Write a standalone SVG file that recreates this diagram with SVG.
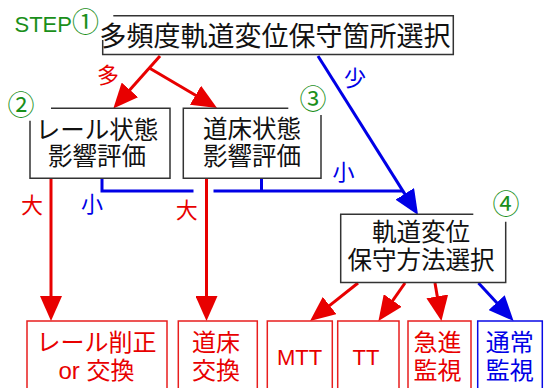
<svg xmlns="http://www.w3.org/2000/svg" width="547" height="388" viewBox="0 0 547 388">
<defs>
<style>
.box{fill:none;stroke:#333;stroke-width:1.5}
.rbox{fill:#fff;stroke:#e81e1e;stroke-width:1.5}
.bbox{fill:#fff;stroke:#0a0ae6;stroke-width:1.5}
.t{font-family:"Liberation Sans","Noto Sans CJK JP",sans-serif;text-anchor:middle}
.k{fill:#111;font-size:24.5px}
.r{fill:#e80000}
.b{fill:#0000e6}
.g{fill:#1a8f1a}
.rl{fill:none;stroke:#e80000;stroke-width:3}
.bl{fill:none;stroke:#0000e6;stroke-width:3}
</style>
<marker id="ar" markerUnits="userSpaceOnUse" markerWidth="25" markerHeight="22" viewBox="0 0 25 22" refX="5" refY="11" orient="auto"><path d="M0,0 L25,11 L0,22 z" fill="#e80000"/></marker>
<marker id="ab" markerUnits="userSpaceOnUse" markerWidth="25" markerHeight="22" viewBox="0 0 25 22" refX="5" refY="11" orient="auto"><path d="M0,0 L25,11 L0,22 z" fill="#0000e6"/></marker>
</defs>
<rect width="547" height="388" fill="#fff"/>

<g id="connectors">
<path class="rl" d="M160,56 L126.6,93.6" marker-end="url(#ar)"/>
<path class="rl" d="M149.3,68 L199.8,97.8" marker-end="url(#ar)"/>
<path class="bl" d="M318,56 L407.4,198.1" marker-end="url(#ab)"/>
<path class="rl" d="M51,178.3 L51,301" marker-end="url(#ar)"/>
<path class="rl" d="M206.5,178.3 L206.5,301" marker-end="url(#ar)"/>
<path class="bl" d="M102,178.3 V191 H193.5 M213.5,191 H403 M261.5,178.3 V191"/>
<path class="rl" d="M358,283 L325.7,308.6" marker-end="url(#ar)"/>
<path class="rl" d="M405,283 L389.9,304.6" marker-end="url(#ar)"/>
<path class="rl" d="M435,283 L438.1,301.3" marker-end="url(#ar)"/>
<path class="bl" d="M478.5,283 L500,306.3" marker-end="url(#ab)"/>
<text class="t r" x="108" y="83.4" font-size="22">多</text>
<text class="t b" x="355" y="86.4" font-size="22">少</text>
<text class="t r" x="32" y="213" font-size="22">大</text>
<text class="t b" x="92" y="212.4" font-size="22">小</text>
<text class="t r" x="186.7" y="218.2" font-size="22">大</text>
<text class="t b" x="343.5" y="180.4" font-size="22">小</text>
</g>

<g id="step1">
<path class="box" d="M113.3,15.7 H453.3 V54.5 H102.7 V40"/>
<text class="t" x="275" y="46" font-size="27" fill="#111">多頻度軌道変位保守箇所選択</text>
<text class="t g" x="14.5" y="32" font-size="22" style="text-anchor:start">STEP<tspan font-size="27">①</tspan></text>
</g>

<g id="step2">
<path class="box" d="M51,108.3 H170 V178.3 H30 V120.7"/>
<text class="t k" x="97" y="138.6">レール状態</text>
<text class="t k" x="97" y="165">影響評価</text>
<text class="t g" x="21" y="115.3" font-size="27">②</text>
</g>

<g id="step3">
<path class="box" d="M288.3,108.3 H183.3 V178.3 H321 V115"/>
<text class="t k" x="252" y="138">道床状態</text>
<text class="t k" x="252" y="165.3">影響評価</text>
<text class="t g" x="313" y="108.8" font-size="27">③</text>
</g>

<g id="step4">
<path class="box" d="M473.3,214.3 H340.7 V282.5 H505.7 V221.7"/>
<text class="t k" x="421" y="241.3">軌道変位</text>
<text class="t k" x="421" y="268.8">保守方法選択</text>
<text class="t g" x="506" y="214.3" font-size="27">④</text>
</g>

<g id="rail-replace">
<rect class="rbox" x="27" y="321" width="140" height="80"/>
<text class="t r" x="96.5" y="351" font-size="24">レール削正</text>
<text class="t r" x="96.5" y="379" font-size="24">or 交換</text>
</g>
<g id="ballast-replace">
<rect class="rbox" x="178.3" y="321" width="79" height="80"/>
<text class="t r" x="216" y="351" font-size="24">道床</text>
<text class="t r" x="216" y="379" font-size="24">交換</text>
</g>
<g id="mtt">
<rect class="rbox" x="267.3" y="321" width="65" height="80"/>
<text class="t r" x="299.5" y="365" font-size="22">MTT</text>
</g>
<g id="tt">
<rect class="rbox" x="337.7" y="321" width="61.3" height="80"/>
<text class="t r" x="366" y="365" font-size="22">TT</text>
</g>
<g id="rapid-watch">
<rect class="rbox" x="408" y="321" width="63" height="80"/>
<text class="t r" x="437.5" y="351" font-size="24">急進</text>
<text class="t r" x="437.5" y="379" font-size="24">監視</text>
</g>
<g id="normal-watch">
<rect class="bbox" x="477.7" y="321" width="64.6" height="80"/>
<text class="t b" x="509.7" y="351" font-size="24">通常</text>
<text class="t b" x="509.7" y="379" font-size="24">監視</text>
</g>
</svg>
